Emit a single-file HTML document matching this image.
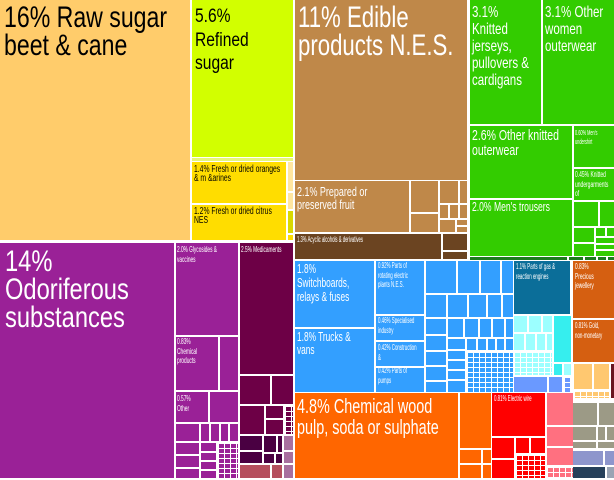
<!DOCTYPE html>
<html><head><meta charset="utf-8"><style>
html,body{margin:0;padding:0;background:#fff}
#c{position:relative;width:614px;height:480px;overflow:hidden;background:#fff}
i{position:absolute;display:block}
.t{position:absolute;white-space:nowrap;transform-origin:0 0;font-family:"Liberation Sans Narrow","Liberation Sans",sans-serif;color:#fff}
.k{color:#000}
.gd{background-image:linear-gradient(90deg,#fff 1px,transparent 1px),linear-gradient(#fff 1px,transparent 1px);background-size:6px 5px}
.rs{background:#FFCC6B}.rf{background:#D2FF00}.yo{background:#FFDD00}.ly{background:#FFE6A0}
.br{background:#BF8849}.db{background:#6B4421}.g{background:#33CC00}.dg{background:#1E7B1E}
.p{background-color:#9A2197}.m{background-color:#6D0046}.dp{background:#4A0042}.mv{background:#A8709F}.ro{background:#B54F5E}
.bl{background-color:#339FFF}.te{background:#0B6E99}.lc{background-color:#9CFFFF}.bc{background:#36EEEE}.pw{background-color:#6A99FF}
.or{background:#FF6600}.rd{background-color:#FF0000}.pk{background-color:#FF7080}
.bo{background:#D55F11}.lo{background-color:#FFC870}.kh{background:#9C9A86}.lv{background:#8E96CC}.nv{background:#26405A}
</style></head><body><div id="c">
<!-- sugar -->
<i class="rs" style="left:0;top:0;width:190px;height:240px"></i>
<i class="rf" style="left:192px;top:0;width:101px;height:157px"></i>
<i style="left:192px;top:158px;width:101px;height:3px;background:#E6F77A"></i>
<i class="yo" style="left:192px;top:162px;width:94px;height:41px"></i>
<i class="yo" style="left:192px;top:205px;width:94px;height:35px"></i>
<i class="ly" style="left:288px;top:162px;width:5px;height:29px"></i>
<i class="ly" style="left:288px;top:193px;width:5px;height:16px"></i>
<i style="left:288px;top:211px;width:5px;height:22px;background:#D9D900"></i>
<i class="yo" style="left:288px;top:235px;width:5px;height:5px"></i>
<!-- purple -->
<i class="p" style="left:0;top:243px;width:174px;height:235px"></i>
<i class="p" style="left:176px;top:243px;width:62px;height:92px"></i>
<i class="p" style="left:176px;top:337px;width:42px;height:53px"></i>
<i class="p" style="left:220px;top:337px;width:18px;height:53px"></i>
<i class="p" style="left:176px;top:392px;width:32px;height:30px"></i>
<i class="p" style="left:210px;top:392px;width:28px;height:30px"></i>
<i class="p" style="left:176px;top:424px;width:23px;height:17px"></i>
<i class="p" style="left:201px;top:424px;width:8px;height:17px"></i>
<i class="p" style="left:211px;top:424px;width:8px;height:17px"></i>
<i class="p" style="left:221px;top:424px;width:7px;height:17px"></i>
<i class="p" style="left:230px;top:424px;width:8px;height:17px"></i>
<i class="p" style="left:176px;top:443px;width:23px;height:11px"></i>
<i class="p" style="left:176px;top:456px;width:23px;height:11px"></i>
<i class="p" style="left:176px;top:469px;width:23px;height:9px"></i>
<i class="p" style="left:201px;top:443px;width:15px;height:8px"></i>
<i class="p" style="left:201px;top:453px;width:15px;height:7px"></i>
<i class="p" style="left:201px;top:462px;width:15px;height:7px"></i>
<i class="p" style="left:201px;top:471px;width:15px;height:7px"></i>
<i class="p gd" style="left:218px;top:443px;width:20px;height:35px"></i>
<i class="m" style="left:240px;top:243px;width:53px;height:131px"></i>
<i class="m" style="left:240px;top:376px;width:30px;height:28px"></i>
<i class="m" style="left:272px;top:376px;width:21px;height:28px"></i>
<i class="m" style="left:240px;top:406px;width:24px;height:28px"></i>
<i class="m" style="left:266px;top:406px;width:17px;height:12px"></i>
<i class="m" style="left:266px;top:420px;width:17px;height:14px"></i>
<i class="m gd" style="left:285px;top:406px;width:8px;height:28px"></i>
<i class="dp" style="left:240px;top:436px;width:22px;height:14px"></i>
<i class="dp" style="left:240px;top:452px;width:22px;height:11px"></i>
<i class="dp" style="left:264px;top:436px;width:12px;height:16px"></i>
<i class="dp" style="left:264px;top:454px;width:10px;height:9px"></i>
<i class="dp" style="left:276px;top:454px;width:6px;height:9px"></i>
<i class="dp" style="left:278px;top:436px;width:4px;height:16px"></i>
<i class="mv" style="left:284px;top:436px;width:9px;height:14px"></i>
<i class="mv" style="left:284px;top:452px;width:9px;height:11px"></i>
<i class="mv" style="left:284px;top:465px;width:9px;height:13px"></i>
<i class="ro" style="left:240px;top:465px;width:30px;height:13px"></i>
<i class="ro" style="left:272px;top:465px;width:10px;height:13px"></i>
<!-- edible -->
<i class="br" style="left:295px;top:0;width:172px;height:180px"></i>
<i class="br" style="left:295px;top:181px;width:114px;height:51px"></i>
<i class="br" style="left:411px;top:181px;width:27px;height:31px"></i>
<i class="br" style="left:411px;top:214px;width:27px;height:18px"></i>
<i class="br" style="left:440px;top:181px;width:18px;height:22px"></i>
<i class="br" style="left:460px;top:181px;width:7px;height:22px"></i>
<i class="br" style="left:440px;top:205px;width:8px;height:13px"></i>
<i class="br" style="left:450px;top:205px;width:8px;height:13px"></i>
<i class="br" style="left:460px;top:205px;width:7px;height:13px"></i>
<i class="br" style="left:440px;top:220px;width:15px;height:12px"></i>
<i class="br" style="left:457px;top:220px;width:10px;height:5px"></i>
<i class="br" style="left:457px;top:227px;width:10px;height:5px"></i>
<i class="db" style="left:295px;top:234px;width:146px;height:25px"></i>
<i class="db" style="left:443px;top:234px;width:24px;height:16px"></i>
<i class="db" style="left:443px;top:252px;width:24px;height:7px"></i>
<!-- green -->
<i class="g" style="left:470px;top:0;width:71px;height:124px"></i>
<i class="g" style="left:543px;top:0;width:71px;height:124px"></i>
<i class="g" style="left:470px;top:126px;width:102px;height:72px"></i>
<i class="g" style="left:574px;top:126px;width:40px;height:41px"></i>
<i class="g" style="left:574px;top:169px;width:40px;height:31px"></i>
<i class="g" style="left:470px;top:200px;width:102px;height:56px"></i>
<i class="g" style="left:574px;top:202px;width:24px;height:24px"></i>
<i class="g" style="left:600px;top:202px;width:14px;height:24px"></i>
<i class="g" style="left:574px;top:228px;width:20px;height:14px"></i>
<i class="g" style="left:596px;top:228px;width:9px;height:8px"></i>
<i class="g" style="left:607px;top:228px;width:7px;height:8px"></i>
<i class="g" style="left:596px;top:238px;width:18px;height:5px"></i>
<i class="g" style="left:596px;top:245px;width:18px;height:4px"></i>
<i class="g" style="left:574px;top:244px;width:20px;height:12px"></i>
<i class="g" style="left:596px;top:251px;width:18px;height:5px"></i>
<i class="dg" style="left:470px;top:257px;width:97px;height:3px"></i>
<i class="dg" style="left:569px;top:257px;width:14px;height:3px"></i>
<i class="dg" style="left:585px;top:257px;width:11px;height:3px"></i>
<i class="dg" style="left:598px;top:257px;width:8px;height:3px"></i>
<i class="dg" style="left:608px;top:257px;width:6px;height:3px"></i>
<!-- blue -->
<i class="bl" style="left:295px;top:261px;width:79px;height:66px"></i>
<i class="bl" style="left:295px;top:329px;width:79px;height:63px"></i>
<i class="bl" style="left:376px;top:261px;width:48px;height:53px"></i>
<i class="bl" style="left:376px;top:316px;width:48px;height:24px"></i>
<i class="bl" style="left:376px;top:342px;width:48px;height:24px"></i>
<i class="bl" style="left:376px;top:368px;width:48px;height:24px"></i>
<i class="bl" style="left:426px;top:261px;width:30px;height:32px"></i>
<i class="bl" style="left:458px;top:261px;width:21px;height:32px"></i>
<i class="bl" style="left:481px;top:261px;width:19px;height:32px"></i>
<i class="bl" style="left:502px;top:261px;width:11px;height:32px"></i>
<i class="bl" style="left:426px;top:295px;width:20px;height:22px"></i>
<i class="bl" style="left:448px;top:295px;width:19px;height:22px"></i>
<i class="bl" style="left:469px;top:295px;width:17px;height:22px"></i>
<i class="bl" style="left:488px;top:295px;width:13px;height:22px"></i>
<i class="bl" style="left:503px;top:295px;width:10px;height:22px"></i>
<i class="bl" style="left:426px;top:319px;width:20px;height:15px"></i>
<i class="bl" style="left:426px;top:336px;width:20px;height:14px"></i>
<i class="bl" style="left:426px;top:352px;width:20px;height:13px"></i>
<i class="bl" style="left:426px;top:367px;width:20px;height:13px"></i>
<i class="bl" style="left:426px;top:382px;width:20px;height:10px"></i>
<i class="bl" style="left:448px;top:319px;width:15px;height:18px"></i>
<i class="bl" style="left:465px;top:319px;width:13px;height:18px"></i>
<i class="bl" style="left:480px;top:319px;width:11px;height:18px"></i>
<i class="bl" style="left:493px;top:319px;width:11px;height:18px"></i>
<i class="bl" style="left:506px;top:319px;width:7px;height:18px"></i>
<i class="bl" style="left:448px;top:339px;width:17px;height:10px"></i>
<i class="bl" style="left:448px;top:351px;width:17px;height:8px"></i>
<i class="bl" style="left:448px;top:361px;width:17px;height:8px"></i>
<i class="bl" style="left:448px;top:371px;width:17px;height:8px"></i>
<i class="bl" style="left:448px;top:381px;width:17px;height:11px"></i>
<i class="bl" style="left:467px;top:339px;width:9px;height:11px"></i>
<i class="bl" style="left:478px;top:339px;width:8px;height:11px"></i>
<i class="bl" style="left:488px;top:339px;width:7px;height:11px"></i>
<i class="bl" style="left:497px;top:339px;width:7px;height:11px"></i>
<i class="bl" style="left:506px;top:339px;width:7px;height:11px"></i>
<i class="bl gd" style="left:467px;top:352px;width:46px;height:40px"></i>
<i class="te" style="left:514px;top:261px;width:56px;height:53px"></i>
<i class="lc" style="left:514px;top:316px;width:13px;height:16px"></i>
<i class="lc" style="left:529px;top:316px;width:12px;height:16px"></i>
<i class="lc" style="left:543px;top:316px;width:9px;height:16px"></i>
<i class="lc" style="left:514px;top:334px;width:10px;height:16px"></i>
<i class="lc" style="left:526px;top:334px;width:9px;height:16px"></i>
<i class="lc" style="left:537px;top:334px;width:8px;height:16px"></i>
<i class="lc" style="left:547px;top:334px;width:5px;height:16px"></i>
<i class="lc gd" style="left:514px;top:352px;width:38px;height:23px"></i>
<i class="bc" style="left:554px;top:316px;width:17px;height:46px"></i>
<i class="bc" style="left:554px;top:364px;width:8px;height:11px"></i>
<i class="lc" style="left:564px;top:364px;width:7px;height:11px"></i>
<i class="pw" style="left:514px;top:377px;width:33px;height:15px"></i>
<i class="pw" style="left:549px;top:377px;width:13px;height:15px"></i>
<i class="pw gd" style="left:564px;top:377px;width:7px;height:15px"></i>
<!-- right column -->
<i class="bo" style="left:573px;top:261px;width:41px;height:57px"></i>
<i class="bo" style="left:573px;top:320px;width:41px;height:42px"></i>
<i class="lo" style="left:574px;top:364px;width:18px;height:25px"></i>
<i class="lo" style="left:594px;top:364px;width:15px;height:25px"></i>
<i class="lo gd" style="left:574px;top:391px;width:35px;height:7px"></i>
<i style="left:611px;top:364px;width:3px;height:34px;background:#6A1520"></i>
<i class="kh" style="left:573px;top:403px;width:24px;height:22px"></i>
<i class="kh" style="left:599px;top:403px;width:15px;height:22px"></i>
<i class="kh" style="left:573px;top:427px;width:23px;height:13px"></i>
<i class="kh" style="left:598px;top:427px;width:7px;height:13px"></i>
<i class="kh" style="left:607px;top:427px;width:7px;height:13px"></i>
<i class="kh" style="left:573px;top:442px;width:23px;height:6px"></i>
<i class="kh" style="left:598px;top:442px;width:16px;height:6px"></i>
<i class="lv" style="left:573px;top:451px;width:30px;height:14px"></i>
<i class="lv" style="left:605px;top:451px;width:9px;height:14px"></i>
<i class="nv" style="left:573px;top:467px;width:32px;height:11px"></i>
<i style="left:607px;top:467px;width:7px;height:11px;background:#9AA4B4"></i>
<!-- orange / red / pink -->
<i class="or" style="left:295px;top:393px;width:163px;height:85px"></i>
<i class="or" style="left:460px;top:393px;width:31px;height:55px"></i>
<i class="or" style="left:460px;top:450px;width:21px;height:13px"></i>
<i class="or" style="left:483px;top:450px;width:8px;height:13px"></i>
<i class="or" style="left:460px;top:465px;width:21px;height:13px"></i>
<i class="or" style="left:483px;top:465px;width:8px;height:13px"></i>
<i class="rd" style="left:492px;top:393px;width:53px;height:43px"></i>
<i class="rd" style="left:492px;top:438px;width:22px;height:20px"></i>
<i class="rd" style="left:516px;top:438px;width:13px;height:15px"></i>
<i class="rd" style="left:531px;top:438px;width:14px;height:15px"></i>
<i class="rd" style="left:492px;top:460px;width:22px;height:18px"></i>
<i class="rd gd" style="left:516px;top:455px;width:29px;height:23px"></i>
<i class="pk" style="left:547px;top:393px;width:26px;height:32px"></i>
<i class="pk" style="left:547px;top:427px;width:26px;height:19px"></i>
<i class="pk" style="left:547px;top:448px;width:26px;height:17px"></i>
<i class="pk gd" style="left:547px;top:467px;width:26px;height:11px"></i>

<!-- text -->
<div class="t k" style="left:4px;top:4px;font-size:30px;line-height:28px;transform:scaleX(.77)">16% Raw sugar<br>beet &amp; cane</div>
<div class="t k" style="left:195px;top:5px;font-size:19px;line-height:23.5px;transform:scaleX(.82)">5.6%<br>Refined<br>sugar</div>
<div class="t k" style="left:194px;top:165px;font-size:10px;line-height:9px;transform:scaleX(.68)">1.4% Fresh or dried oranges<br>&amp; m &amp;arines</div>
<div class="t k" style="left:194px;top:207px;font-size:10px;line-height:9px;transform:scaleX(.68)">1.2% Fresh or dried citrus<br>NES</div>
<div class="t" style="left:298px;top:4px;font-size:30px;line-height:28px;transform:scaleX(.74)">11% Edible<br>products N.E.S.</div>
<div class="t" style="left:297px;top:186px;font-size:13px;line-height:12.5px;transform:scaleX(.69)">2.1% Prepared or<br>preserved fruit</div>
<div class="t" style="left:297px;top:235px;font-size:8px;line-height:9px;transform:scaleX(.53)">1.3% Acyclic alcohols &amp; derivatives</div>
<div class="t" style="left:472px;top:4px;font-size:16px;line-height:17px;transform:scaleX(.72)">3.1%<br>Knitted<br>jerseys,<br>pullovers &amp;<br>cardigans</div>
<div class="t" style="left:545px;top:4px;font-size:16px;line-height:17px;transform:scaleX(.72)">3.1% Other<br>women<br>outerwear</div>
<div class="t" style="left:472px;top:128px;font-size:15px;line-height:15px;transform:scaleX(.7)">2.6% Other knitted<br>outerwear</div>
<div class="t" style="left:575px;top:128px;font-size:7.5px;line-height:9px;transform:scaleX(.52)">0.60% Men's<br>undershirt</div>
<div class="t" style="left:575px;top:170px;font-size:8px;line-height:9.5px;transform:scaleX(.62)">0.45% Knitted<br>undergarments<br>of</div>
<div class="t" style="left:472px;top:200px;font-size:13px;line-height:14px;transform:scaleX(.66)">2.0% Men's trousers</div>
<div class="t" style="left:5px;top:248px;font-size:30px;line-height:28px;transform:scaleX(.79)">14%<br>Odoriferous<br>substances</div>
<div class="t" style="left:177px;top:245px;font-size:8.5px;line-height:9.5px;transform:scaleX(.56)">2.0% Glycosides &amp;<br>vaccines</div>
<div class="t" style="left:241px;top:245px;font-size:8.5px;line-height:9.5px;transform:scaleX(.56)">2.5% Medicaments</div>
<div class="t" style="left:177px;top:337px;font-size:8.5px;line-height:9.5px;transform:scaleX(.57)">0.83%<br>Chemical<br>products</div>
<div class="t" style="left:177px;top:394px;font-size:8.5px;line-height:9.5px;transform:scaleX(.57)">0.57%<br>Other</div>
<div class="t" style="left:297px;top:262px;font-size:13px;line-height:14px;transform:scaleX(.64)">1.8%<br>Switchboards,<br>relays &amp; fuses</div>
<div class="t" style="left:297px;top:330px;font-size:13px;line-height:13px;transform:scaleX(.64)">1.8% Trucks &amp;<br>vans</div>
<div class="t" style="left:378px;top:261px;font-size:8.5px;line-height:9.5px;transform:scaleX(.52)">0.92% Parts of<br>rotating electric<br>plants N.E.S.</div>
<div class="t" style="left:378px;top:316px;font-size:8.5px;line-height:9.5px;transform:scaleX(.52)">0.46% Specialised<br>industry</div>
<div class="t" style="left:378px;top:343px;font-size:8.5px;line-height:9.5px;transform:scaleX(.52)">0.42% Construction<br>&amp;</div>
<div class="t" style="left:378px;top:366px;font-size:8.5px;line-height:9.5px;transform:scaleX(.52)">0.42% Parts of<br>pumps</div>
<div class="t" style="left:516px;top:262px;font-size:8.5px;line-height:9.5px;transform:scaleX(.52)">1.1% Parts of gas &amp;<br>reaction engines</div>
<div class="t" style="left:575px;top:262px;font-size:8.5px;line-height:9.5px;transform:scaleX(.57)">0.83%<br>Precious<br>jewellery</div>
<div class="t" style="left:575px;top:321px;font-size:8.5px;line-height:9.5px;transform:scaleX(.52)">0.81% Gold,<br>non-monetary</div>
<div class="t" style="left:297px;top:397px;font-size:20px;line-height:21px;transform:scaleX(.72)">4.8% Chemical wood<br>pulp, soda or sulphate</div>
<div class="t" style="left:494px;top:394px;font-size:8.5px;line-height:9.5px;transform:scaleX(.52)">0.81% Electric wire</div>
</div></body></html>
